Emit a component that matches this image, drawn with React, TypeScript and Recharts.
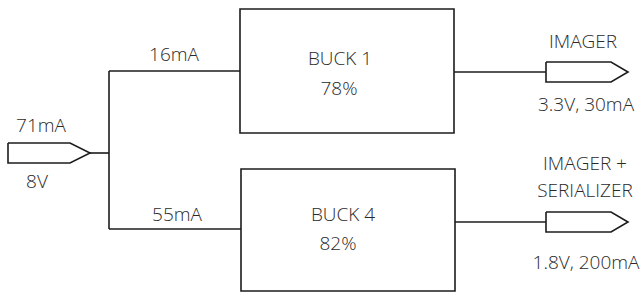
import React from "react";
import { ComposedChart, Line, XAxis, YAxis, ReferenceArea, ReferenceDot } from "recharts";

// values
const inputLabels = ["71mA", "8V"];
const branchCurrents = ["16mA", "55mA"];
const buckNames = ["BUCK 1", "BUCK 4"];
const efficiencies = ["78%", "82%"];
const loadNames = [["IMAGER"], ["IMAGER +", "SERIALIZER"]];
const outputRatings = ["3.3V, 30mA", "1.8V, 200mA"];

const W = 644;
const H = 295;
const INK = "#1c1c1c";
const TEXT = "#2a2a2a";
const FONT = "'Open Sans', 'Noto Sans', sans-serif";

// layout (chart units = pixels)
const busX = 109;
const branchY = [71, 229];
const boxes = [
  { x1: 240, x2: 454, y1: 9, y2: 133 },
  { x1: 241, x2: 455, y1: 169, y2: 291 },
];
const outY = [72, 222];
const inputMidY = 153;

type Pt = { x: number; y: number };

// pentagon-shaped port symbol, pointing right
const port = (left: number, right: number, tip: number, midY: number): Pt[] => [
  { x: left, y: midY - 10 },
  { x: right, y: midY - 10 },
  { x: tip, y: midY },
  { x: right, y: midY + 10 },
  { x: left, y: midY + 10 },
  { x: left, y: midY - 10 },
];

const wires: Pt[][] = [
  [{ x: 90, y: inputMidY }, { x: busX, y: inputMidY }],
  [{ x: busX, y: branchY[0] }, { x: busX, y: branchY[1] }],
  [{ x: busX, y: branchY[0] }, { x: boxes[0].x1, y: branchY[0] }],
  [{ x: busX, y: branchY[1] }, { x: boxes[1].x1, y: branchY[1] }],
  [{ x: boxes[0].x2, y: outY[0] }, { x: 546, y: outY[0] }],
  [{ x: boxes[1].x2, y: outY[1] }, { x: 546, y: outY[1] }],
];

const ports: Pt[][] = [
  port(8, 70, 90, inputMidY),
  port(546, 611, 628, outY[0]),
  port(546, 611, 628, outY[1]),
];

type Lbl = { x: number; y: number; text: string };

const labels: Lbl[] = [
  { x: 41, y: 132, text: inputLabels[0] },
  { x: 37, y: 188, text: inputLabels[1] },
  { x: 174, y: 61, text: branchCurrents[0] },
  { x: 177, y: 221, text: branchCurrents[1] },
  { x: 340, y: 65, text: buckNames[0] },
  { x: 339, y: 95, text: efficiencies[0] },
  { x: 343, y: 221, text: buckNames[1] },
  { x: 338, y: 250, text: efficiencies[1] },
  { x: 583, y: 48, text: loadNames[0][0] },
  { x: 586, y: 111, text: outputRatings[0] },
  { x: 585, y: 170, text: loadNames[1][0] },
  { x: 585, y: 197, text: loadNames[1][1] },
  { x: 586, y: 269, text: outputRatings[1] },
];

const textShape = (text: string) => (props: any) => (
  <text
    x={props.cx}
    y={props.cy}
    textAnchor="middle"
    fill={TEXT}
    fontSize={19}
    fontWeight={350}
    fontFamily={FONT}
  >
    {text}
  </text>
);

export default function App() {
  return (
    <div>
      <style>{"body{margin:0;background:#fff}"}</style>
      <ComposedChart width={W} height={H} margin={{ top: 0, right: 0, bottom: 0, left: 0 }}>
        <XAxis type="number" dataKey="x" domain={[0, W]} hide allowDataOverflow />
        <YAxis type="number" dataKey="y" domain={[0, H]} reversed hide allowDataOverflow />
        {boxes.map((b, i) => (
          <ReferenceArea
            key={"box" + i}
            x1={b.x1}
            x2={b.x2}
            y1={b.y1}
            y2={b.y2}
            fill="#fff"
            fillOpacity={1}
            stroke={INK}
            strokeWidth={1.6}
            ifOverflow="visible"
          />
        ))}
        {wires.map((w, i) => (
          <Line
            key={"wire" + i}
            data={w}
            dataKey="y"
            type="linear"
            stroke={INK}
            strokeWidth={1.6}
            dot={false}
            activeDot={false}
            isAnimationActive={false}
          />
        ))}
        {ports.map((p, i) => (
          <Line
            key={"port" + i}
            data={p}
            dataKey="y"
            type="linear"
            stroke={INK}
            strokeWidth={1.6}
            strokeLinejoin="miter"
            dot={false}
            activeDot={false}
            isAnimationActive={false}
          />
        ))}
        {labels.map((l, i) => (
          <ReferenceDot
            key={"lbl" + i}
            x={l.x}
            y={l.y}
            r={0}
            ifOverflow="visible"
            shape={textShape(l.text)}
          />
        ))}
      </ComposedChart>
    </div>
  );
}
